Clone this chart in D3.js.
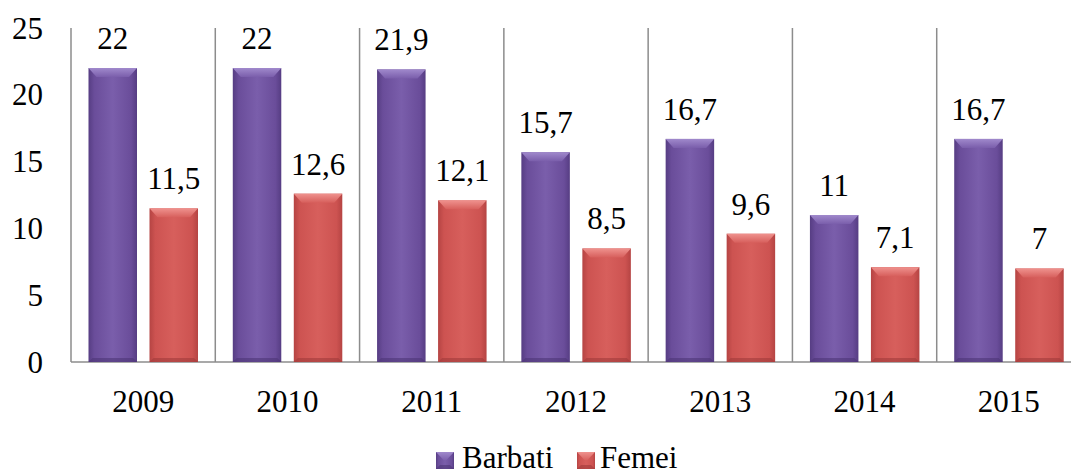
<!DOCTYPE html>
<html>
<head>
<meta charset="utf-8">
<script src="https://cdn.jsdelivr.net/npm/d3@7"></script>
<style>
  body { margin: 0; background: #fff; }
</style>
</head>
<body>
<div id="chart"></div>
<script>
// data
var years = ["2009", "2010", "2011", "2012", "2013", "2014", "2015"];
var seriesNames = ["Barbati", "Femei"];
var barbati = [22, 22, 21.9, 15.7, 16.7, 11, 16.7];
var femei = [11.5, 12.6, 12.1, 8.5, 9.6, 7.1, 7];
var yTicks = [0, 5, 10, 15, 20, 25];

var W = 1071, H = 471;
var plotLeft = 71, plotRight = 1081, plotTop = 28, plotBottom = 362;

var colors = {
  Barbati: { body: "#6a4d9a", light: "#7a5eab", edge: "#563d83", bevel: "#a089cc", dark: "#4d3676" },
  Femei:   { body: "#cd5351", light: "#d75f5c", edge: "#b54443", bevel: "#ef928e", dark: "#a03b3a" }
};

var svg = d3.select("#chart").append("svg")
  .attr("width", W)
  .attr("height", H)
  .attr("font-family", "Liberation Serif");

var defs = svg.append("defs");
seriesNames.forEach(function (s) {
  var g = defs.append("linearGradient")
    .attr("id", "grad-" + s)
    .attr("x1", "0").attr("x2", "1").attr("y1", "0").attr("y2", "0");
  g.append("stop").attr("offset", "0").attr("stop-color", colors[s].edge);
  g.append("stop").attr("offset", "0.12").attr("stop-color", colors[s].body);
  g.append("stop").attr("offset", "0.5").attr("stop-color", colors[s].light);
  g.append("stop").attr("offset", "0.88").attr("stop-color", colors[s].body);
  g.append("stop").attr("offset", "1").attr("stop-color", colors[s].edge);
  var t = defs.append("linearGradient")
    .attr("id", "top-" + s)
    .attr("x1", "0").attr("x2", "0").attr("y1", "0").attr("y2", "1");
  t.append("stop").attr("offset", "0").attr("stop-color", colors[s].bevel);
  t.append("stop").attr("offset", "1").attr("stop-color", colors[s].light);
});

var x = d3.scaleBand().domain(years).range([plotLeft, plotRight]).padding(0);
var xs = d3.scaleBand().domain(seriesNames)
  .range([17.5, 127]).paddingInner(0.205).paddingOuter(0);
var y = d3.scaleLinear().domain([0, 25]).range([plotBottom, plotTop]);

var rows = years.map(function (yr, i) {
  return { year: yr, Barbati: barbati[i], Femei: femei[i] };
});

// vertical grid lines between categories
svg.append("g")
  .selectAll("line")
  .data(years.slice(1))
  .enter().append("line")
  .attr("x1", function (d) { return x(d); })
  .attr("x2", function (d) { return x(d); })
  .attr("y1", plotTop)
  .attr("y2", plotBottom)
  .attr("stroke", "#8c8c8c")
  .attr("stroke-width", 1.5);

// axis lines
svg.append("line")
  .attr("x1", plotLeft).attr("x2", plotLeft).attr("y1", plotTop).attr("y2", plotBottom)
  .attr("stroke", "#8c8c8c").attr("stroke-width", 1.5);
svg.append("line")
  .attr("x1", plotLeft).attr("x2", plotRight).attr("y1", plotBottom).attr("y2", plotBottom)
  .attr("stroke", "#8c8c8c").attr("stroke-width", 1.5);

// y tick labels
svg.append("g")
  .selectAll("text")
  .data(yTicks)
  .enter().append("text")
  .attr("x", 43)
  .attr("y", function (d) { return y(d); })
  .attr("dy", "0.34em")
  .attr("text-anchor", "end")
  .attr("font-size", 31)
  .text(function (d) { return d; });

// x labels
svg.append("g")
  .selectAll("text")
  .data(years)
  .enter().append("text")
  .attr("x", function (d) { return x(d) + x.bandwidth() / 2; })
  .attr("y", 412)
  .attr("text-anchor", "middle")
  .attr("font-size", 31)
  .text(function (d) { return d; });

function bevelBar(g, s, x0, y0, w, h) {
  var x1 = x0 + w, y1 = y0 + h, b = Math.min(9, h / 2), inset = Math.min(8, w / 2 - 1);
  g.append("rect")
    .attr("x", x0).attr("y", y0).attr("width", w).attr("height", h)
    .attr("fill", "url(#grad-" + s + ")");
  g.append("path")
    .attr("d", "M" + x0 + "," + y0 + "L" + x1 + "," + y0 + "L" + (x1 - inset) + "," + (y0 + b) +
      "L" + (x0 + inset) + "," + (y0 + b) + "Z")
    .attr("fill", "url(#top-" + s + ")");
  g.append("path")
    .attr("d", "M" + x0 + "," + y1 + "L" + x1 + "," + y1 + "L" + (x1 - 4) + "," + (y1 - 4) +
      "L" + (x0 + 4) + "," + (y1 - 4) + "Z")
    .attr("fill", colors[s].dark)
    .attr("opacity", 0.6);
}

var groups = svg.append("g")
  .selectAll("g")
  .data(rows)
  .enter().append("g")
  .attr("transform", function (d) { return "translate(" + x(d.year) + ",0)"; });

groups.each(function (d) {
  var g = d3.select(this);
  seriesNames.forEach(function (s) {
    var v = d[s];
    bevelBar(g, s, xs(s), y(v), xs.bandwidth(), y(0) - y(v));
    g.append("text")
      .attr("x", xs(s) + xs.bandwidth() / 2)
      .attr("y", y(v) - 19)
      .attr("text-anchor", "middle")
      .attr("font-size", 31)
      .text(String(v).replace(".", ","));
  });
});

// legend
var legendItems = [
  { name: "Barbati", sx: 436, tx: 462 },
  { name: "Femei", sx: 577, tx: 600 }
];
var legend = svg.append("g");
legendItems.forEach(function (it) {
  var g = legend.append("g");
  bevelBar(g, it.name, it.sx, 452, 18, 17);
  g.append("text")
    .attr("x", it.tx)
    .attr("y", 468)
    .attr("font-size", 31)
    .text(it.name);
});
</script>
</body>
</html>
